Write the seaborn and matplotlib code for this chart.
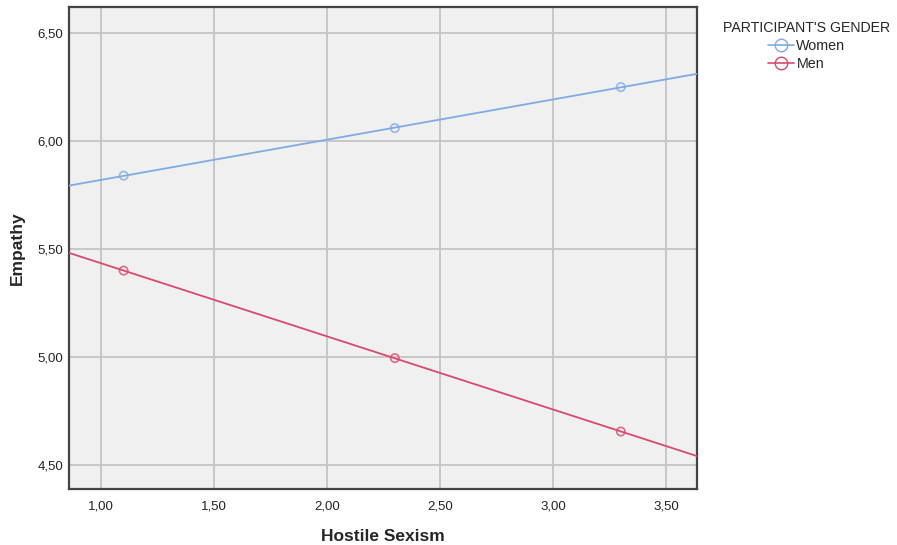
import numpy as np
import pandas as pd
import matplotlib
matplotlib.use("Agg")
import matplotlib.pyplot as plt
import seaborn as sns
from matplotlib.lines import Line2D
from matplotlib.ticker import FuncFormatter

# values
sexism_levels = [1.10, 2.30, 3.30]
women_empathy = [5.84, 6.06, 6.25]
men_empathy = [5.40, 4.995, 4.655]
groups = ["Women", "Men"]
colors = {"Women": "#7eaae6", "Men": "#d9496c"}
x_ticks = [1.0, 1.5, 2.0, 2.5, 3.0, 3.5]
y_ticks = [4.5, 5.0, 5.5, 6.0, 6.5]

df = pd.DataFrame({
    "Hostile Sexism": sexism_levels * 2,
    "Empathy": women_empathy + men_empathy,
    "gender": ["Women"] * 3 + ["Men"] * 3,
})

sns.set_style("white")
plt.rcParams["font.family"] = ["Liberation Sans", "DejaVu Sans"]

fig = plt.figure(figsize=(8.97, 5.45), dpi=100)
ax = fig.add_axes([0.0769, 0.1028, 0.7001, 0.884])
ax.set_facecolor("#f0f0f0")
ax.set_xlim(0.858, 3.637)
ax.set_ylim(4.389, 6.62)
ax.set_xticks(x_ticks)
ax.set_yticks(y_ticks)
ax.grid(True, color="#c4c4c4", linewidth=1.3)
ax.set_axisbelow(True)

# fitted line per gender, stretched across the whole axis
for g in groups:
    sub = df[df["gender"] == g]
    sns.regplot(data=sub, x="Hostile Sexism", y="Empathy", ax=ax, ci=None,
                truncate=False, color=colors[g],
                scatter_kws={"facecolors": "none", "edgecolors": colors[g],
                             "s": 36, "linewidths": 1.2, "zorder": 4},
                line_kws={"linewidth": 1.3, "zorder": 3})

ax.set_xlim(0.858, 3.637)
ax.set_ylim(4.389, 6.62)

fmt = FuncFormatter(lambda v, p: f"{v:.2f}".replace(".", ","))
ax.xaxis.set_major_formatter(fmt)
ax.yaxis.set_major_formatter(fmt)
ax.tick_params(axis="both", length=0, labelsize=9.5, colors="#222222")
ax.tick_params(axis="x", pad=8)
ax.tick_params(axis="y", pad=4)

ax.set_xlabel("Hostile Sexism", fontsize=12.5, fontweight="bold", labelpad=12)
ax.set_ylabel("Empathy", fontsize=12.5, fontweight="bold", labelpad=9)

for s in ax.spines.values():
    s.set_color("#444444")
    s.set_linewidth(1.6)

handles = [Line2D([0], [0], color=colors[g], marker="o", markerfacecolor="none",
                  markeredgecolor=colors[g], markersize=9, linewidth=1.2)
           for g in groups]
leg = fig.legend(handles, groups, title="PARTICIPANT'S GENDER",
                 loc="upper left", bbox_to_anchor=(0.795, 0.98),
                 frameon=False, fontsize=10.3, title_fontsize=10.2,
                 handlelength=1.8, handletextpad=0.2, labelspacing=0.3,
                 borderpad=0.2)
leg._legend_box.align = "center"

fig.savefig("out.png", dpi=100)
